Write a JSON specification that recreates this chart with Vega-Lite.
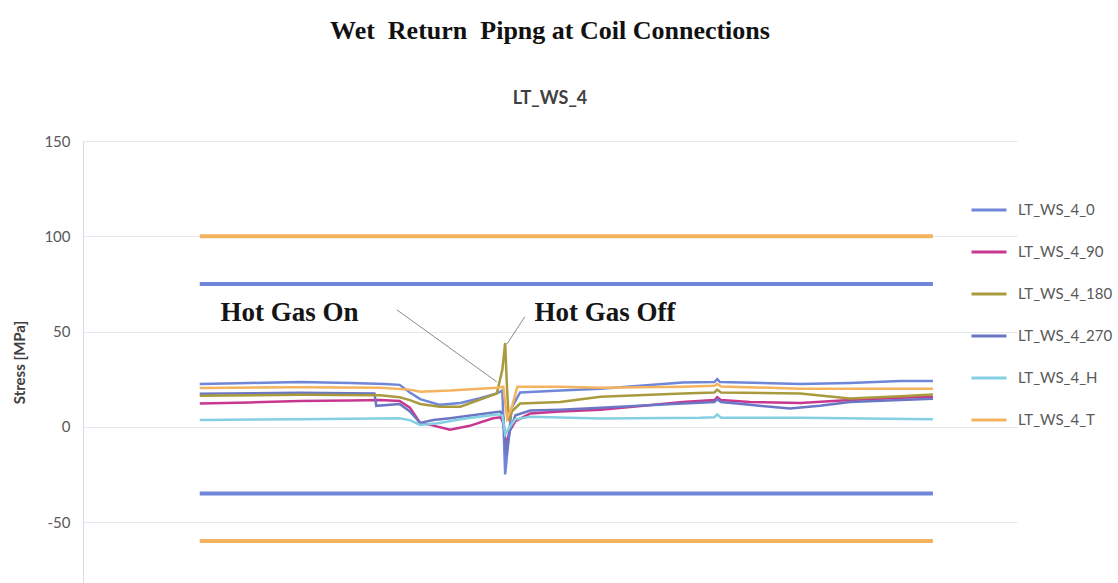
{
  "$schema": "https://vega.github.io/schema/vega-lite/v6.json",
  "width": 934,
  "height": 442,
  "autosize": {"type": "none"},
  "padding": {"left": 83, "top": 141, "right": 101, "bottom": 0},
  "background": "white",
  "title": {
    "text": "Wet\u00a0 Return\u00a0 Pipng at Coil Connections",
    "subtitle": "LT_WS_4",
    "font": "Liberation Serif",
    "fontSize": 26,
    "fontWeight": "bold",
    "color": "#111111",
    "subtitleFont": "Lato",
    "subtitleFontSize": 18,
    "subtitleFontWeight": "bold",
    "subtitleColor": "#404040",
    "anchor": "middle",
    "frame": "group",
    "offset": 26,
    "subtitlePadding": 46
  },
  "config": {"view": {"stroke": null}, "font": "Lato"},
  "datasets": {
    "series": [
      {"series": "LT_WS_4_0", "t": 12.5, "v": 22.5}, {"series": "LT_WS_4_0", "t": 17.9, "v": 23}, {"series": "LT_WS_4_0", "t": 23.2, "v": 23.5}, {"series": "LT_WS_4_0", "t": 28.6, "v": 23}, {"series": "LT_WS_4_0", "t": 32.3, "v": 22.5}, {"series": "LT_WS_4_0", "t": 33.9, "v": 22}, {"series": "LT_WS_4_0", "t": 35.0, "v": 18}, {"series": "LT_WS_4_0", "t": 36.1, "v": 14.5}, {"series": "LT_WS_4_0", "t": 38.2, "v": 11.5}, {"series": "LT_WS_4_0", "t": 40.4, "v": 12.5}, {"series": "LT_WS_4_0", "t": 42.5, "v": 15}, {"series": "LT_WS_4_0", "t": 44.3, "v": 17.5}, {"series": "LT_WS_4_0", "t": 44.9, "v": 19}, {"series": "LT_WS_4_0", "t": 45.2, "v": -25}, {"series": "LT_WS_4_0", "t": 45.5, "v": -10}, {"series": "LT_WS_4_0", "t": 45.9, "v": 10}, {"series": "LT_WS_4_0", "t": 46.8, "v": 18}, {"series": "LT_WS_4_0", "t": 51.1, "v": 19}, {"series": "LT_WS_4_0", "t": 55.4, "v": 20}, {"series": "LT_WS_4_0", "t": 64.2, "v": 23.2}, {"series": "LT_WS_4_0", "t": 67.6, "v": 23.5}, {"series": "LT_WS_4_0", "t": 67.9, "v": 25}, {"series": "LT_WS_4_0", "t": 68.2, "v": 23.5}, {"series": "LT_WS_4_0", "t": 76.8, "v": 22.5}, {"series": "LT_WS_4_0", "t": 82.1, "v": 23}, {"series": "LT_WS_4_0", "t": 87.5, "v": 24}, {"series": "LT_WS_4_0", "t": 91.0, "v": 24},

      {"series": "LT_WS_4_90", "t": 12.5, "v": 12.2}, {"series": "LT_WS_4_90", "t": 17.9, "v": 12.8}, {"series": "LT_WS_4_90", "t": 23.2, "v": 13.5}, {"series": "LT_WS_4_90", "t": 28.6, "v": 13.8}, {"series": "LT_WS_4_90", "t": 31.8, "v": 14}, {"series": "LT_WS_4_90", "t": 33.9, "v": 13.5}, {"series": "LT_WS_4_90", "t": 35.0, "v": 10}, {"series": "LT_WS_4_90", "t": 36.1, "v": 2}, {"series": "LT_WS_4_90", "t": 37.2, "v": 1}, {"series": "LT_WS_4_90", "t": 39.3, "v": -1.5}, {"series": "LT_WS_4_90", "t": 41.4, "v": 0.5}, {"series": "LT_WS_4_90", "t": 43.9, "v": 4.5}, {"series": "LT_WS_4_90", "t": 44.7, "v": 5}, {"series": "LT_WS_4_90", "t": 45.0, "v": 2}, {"series": "LT_WS_4_90", "t": 45.3, "v": -10}, {"series": "LT_WS_4_90", "t": 45.7, "v": -2}, {"series": "LT_WS_4_90", "t": 46.3, "v": 3}, {"series": "LT_WS_4_90", "t": 47.9, "v": 7}, {"series": "LT_WS_4_90", "t": 51.1, "v": 8}, {"series": "LT_WS_4_90", "t": 55.4, "v": 9}, {"series": "LT_WS_4_90", "t": 60.0, "v": 11}, {"series": "LT_WS_4_90", "t": 64.2, "v": 13}, {"series": "LT_WS_4_90", "t": 67.6, "v": 14}, {"series": "LT_WS_4_90", "t": 67.9, "v": 15.5}, {"series": "LT_WS_4_90", "t": 68.3, "v": 14}, {"series": "LT_WS_4_90", "t": 71.4, "v": 13}, {"series": "LT_WS_4_90", "t": 76.8, "v": 12.5}, {"series": "LT_WS_4_90", "t": 82.1, "v": 14}, {"series": "LT_WS_4_90", "t": 87.5, "v": 15.3}, {"series": "LT_WS_4_90", "t": 91.0, "v": 15.7},

      {"series": "LT_WS_4_270", "t": 12.5, "v": 17.3}, {"series": "LT_WS_4_270", "t": 23.2, "v": 17.8}, {"series": "LT_WS_4_270", "t": 31.2, "v": 17.5}, {"series": "LT_WS_4_270", "t": 31.4, "v": 11}, {"series": "LT_WS_4_270", "t": 33.9, "v": 12}, {"series": "LT_WS_4_270", "t": 35.0, "v": 8}, {"series": "LT_WS_4_270", "t": 36.1, "v": 2}, {"series": "LT_WS_4_270", "t": 37.5, "v": 3.5}, {"series": "LT_WS_4_270", "t": 39.3, "v": 4.5}, {"series": "LT_WS_4_270", "t": 43.9, "v": 7.5}, {"series": "LT_WS_4_270", "t": 44.7, "v": 8}, {"series": "LT_WS_4_270", "t": 45.0, "v": 5}, {"series": "LT_WS_4_270", "t": 45.3, "v": -15}, {"series": "LT_WS_4_270", "t": 45.7, "v": -2}, {"series": "LT_WS_4_270", "t": 46.3, "v": 6}, {"series": "LT_WS_4_270", "t": 47.9, "v": 8.5}, {"series": "LT_WS_4_270", "t": 51.1, "v": 9}, {"series": "LT_WS_4_270", "t": 55.4, "v": 10}, {"series": "LT_WS_4_270", "t": 64.2, "v": 12.2}, {"series": "LT_WS_4_270", "t": 67.6, "v": 13}, {"series": "LT_WS_4_270", "t": 67.9, "v": 14.5}, {"series": "LT_WS_4_270", "t": 68.3, "v": 13}, {"series": "LT_WS_4_270", "t": 71.4, "v": 11.5}, {"series": "LT_WS_4_270", "t": 75.7, "v": 9.6}, {"series": "LT_WS_4_270", "t": 78.9, "v": 11}, {"series": "LT_WS_4_270", "t": 82.1, "v": 13}, {"series": "LT_WS_4_270", "t": 91.0, "v": 14.7},

      {"series": "LT_WS_4_180", "t": 12.5, "v": 16.3}, {"series": "LT_WS_4_180", "t": 23.2, "v": 16.8}, {"series": "LT_WS_4_180", "t": 31.8, "v": 16.5}, {"series": "LT_WS_4_180", "t": 33.9, "v": 15.5}, {"series": "LT_WS_4_180", "t": 35.0, "v": 14}, {"series": "LT_WS_4_180", "t": 36.1, "v": 12}, {"series": "LT_WS_4_180", "t": 38.2, "v": 10.5}, {"series": "LT_WS_4_180", "t": 40.4, "v": 10.5}, {"series": "LT_WS_4_180", "t": 44.3, "v": 17.5}, {"series": "LT_WS_4_180", "t": 44.9, "v": 30}, {"series": "LT_WS_4_180", "t": 45.2, "v": 44}, {"series": "LT_WS_4_180", "t": 45.4, "v": 20}, {"series": "LT_WS_4_180", "t": 45.6, "v": 3}, {"series": "LT_WS_4_180", "t": 45.9, "v": 8}, {"series": "LT_WS_4_180", "t": 46.8, "v": 12.2}, {"series": "LT_WS_4_180", "t": 51.1, "v": 13}, {"series": "LT_WS_4_180", "t": 55.4, "v": 15.7}, {"series": "LT_WS_4_180", "t": 64.2, "v": 17.5}, {"series": "LT_WS_4_180", "t": 67.6, "v": 18}, {"series": "LT_WS_4_180", "t": 67.9, "v": 19.5}, {"series": "LT_WS_4_180", "t": 68.3, "v": 18}, {"series": "LT_WS_4_180", "t": 76.8, "v": 17.5}, {"series": "LT_WS_4_180", "t": 82.1, "v": 14.8}, {"series": "LT_WS_4_180", "t": 87.5, "v": 16}, {"series": "LT_WS_4_180", "t": 91.0, "v": 17},

      {"series": "LT_WS_4_H", "t": 12.5, "v": 3.5}, {"series": "LT_WS_4_H", "t": 23.2, "v": 4}, {"series": "LT_WS_4_H", "t": 33.9, "v": 4.5}, {"series": "LT_WS_4_H", "t": 35.0, "v": 3.5}, {"series": "LT_WS_4_H", "t": 36.1, "v": 1}, {"series": "LT_WS_4_H", "t": 38.2, "v": 2}, {"series": "LT_WS_4_H", "t": 40.4, "v": 4}, {"series": "LT_WS_4_H", "t": 44.3, "v": 6.5}, {"series": "LT_WS_4_H", "t": 44.9, "v": 6}, {"series": "LT_WS_4_H", "t": 45.2, "v": -4}, {"series": "LT_WS_4_H", "t": 45.7, "v": 0}, {"series": "LT_WS_4_H", "t": 46.3, "v": 4}, {"series": "LT_WS_4_H", "t": 47.9, "v": 5.2}, {"series": "LT_WS_4_H", "t": 55.4, "v": 4.4}, {"series": "LT_WS_4_H", "t": 66.1, "v": 4.7}, {"series": "LT_WS_4_H", "t": 67.6, "v": 5}, {"series": "LT_WS_4_H", "t": 67.9, "v": 6.5}, {"series": "LT_WS_4_H", "t": 68.3, "v": 4.8}, {"series": "LT_WS_4_H", "t": 76.8, "v": 4.7}, {"series": "LT_WS_4_H", "t": 91.0, "v": 4},

      {"series": "LT_WS_4_T", "t": 12.5, "v": 20.4}, {"series": "LT_WS_4_T", "t": 23.2, "v": 20.8}, {"series": "LT_WS_4_T", "t": 31.8, "v": 20.5}, {"series": "LT_WS_4_T", "t": 35.0, "v": 19.5}, {"series": "LT_WS_4_T", "t": 36.1, "v": 18.4}, {"series": "LT_WS_4_T", "t": 39.3, "v": 19}, {"series": "LT_WS_4_T", "t": 44.3, "v": 20.5}, {"series": "LT_WS_4_T", "t": 45.0, "v": 21}, {"series": "LT_WS_4_T", "t": 45.4, "v": 4.4}, {"series": "LT_WS_4_T", "t": 45.9, "v": 10}, {"series": "LT_WS_4_T", "t": 46.5, "v": 21}, {"series": "LT_WS_4_T", "t": 51.1, "v": 21}, {"series": "LT_WS_4_T", "t": 55.4, "v": 20.5}, {"series": "LT_WS_4_T", "t": 64.2, "v": 21}, {"series": "LT_WS_4_T", "t": 67.6, "v": 21.5}, {"series": "LT_WS_4_T", "t": 67.9, "v": 22.5}, {"series": "LT_WS_4_T", "t": 68.3, "v": 21.2}, {"series": "LT_WS_4_T", "t": 76.8, "v": 20}, {"series": "LT_WS_4_T", "t": 82.1, "v": 20}, {"series": "LT_WS_4_T", "t": 91.0, "v": 20}
    ],
    "limits": [
      {"series": "LT_WS_4_T", "stress": 100, "start": 12.5, "end": 91.0},
      {"series": "LT_WS_4_0", "stress": 75, "start": 12.5, "end": 91.0},
      {"series": "LT_WS_4_0", "stress": -35, "start": 12.5, "end": 91.0},
      {"series": "LT_WS_4_T", "stress": -60, "start": 12.5, "end": 91.0}
    ],
    "leaders": [
      {"event": "Hot Gas On", "t": 33.6, "v": 61.4, "t2": 44.3, "v2": 23.6},
      {"event": "Hot Gas Off", "t": 47.3, "v": 57.7, "t2": 45.4, "v2": 43.5}
    ],
    "labels": [
      {"event": "Hot Gas On", "t": 22.1, "v": 55.6},
      {"event": "Hot Gas Off", "t": 55.9, "v": 55.6}
    ]
  },
  "layer": [
    {
      "data": {"name": "limits"},
      "mark": {"type": "rule", "strokeWidth": 4},
      "encoding": {
        "x": {"field": "start", "type": "quantitative", "scale": {"domain": [0, 100], "nice": false, "zero": false}, "axis": null},
        "x2": {"field": "end"},
        "y": {"field": "stress", "type": "quantitative", "scale": {"domain": [-82, 150], "nice": false, "zero": false},
          "axis": {"values": [-50, 0, 50, 100, 150], "labelExpr": "toString(datum.value)", "title": "Stress [MPa]", "titleFont": "Lato", "titleFontSize": 15, "titleFontWeight": "bold", "titleColor": "#404040", "titlePadding": 16,
            "labelFont": "Lato", "labelFontSize": 15, "labelColor": "#595959", "labelPadding": 13, "ticks": false, "tickSize": 0,
            "domainColor": "#d8dae6", "grid": true, "gridColor": "#e8e9f0"}},
        "color": {"field": "series", "type": "nominal",
          "scale": {"domain": ["LT_WS_4_0", "LT_WS_4_90", "LT_WS_4_180", "LT_WS_4_270", "LT_WS_4_H", "LT_WS_4_T"],
            "range": ["#6f86d9", "#c8378f", "#a99b3d", "#6b76c4", "#84d0e2", "#f4b35e"]},
          "legend": {"orient": "none", "legendX": 887, "legendY": 50, "title": null, "symbolType": "stroke", "symbolSize": 1225, "symbolStrokeWidth": 3,
            "labelFont": "Lato", "labelFontSize": 15, "labelColor": "#595959", "labelOffset": 10, "rowPadding": 15, "padding": 0}}
      }
    },
    {
      "data": {"name": "series"},
      "mark": {"type": "line", "strokeWidth": 2.5},
      "encoding": {
        "x": {"field": "t", "type": "quantitative"},
        "y": {"field": "v", "type": "quantitative"},
        "color": {"field": "series", "type": "nominal"}
      }
    },
    {
      "data": {"name": "leaders"},
      "mark": {"type": "rule", "strokeWidth": 1, "color": "#8a8a8a"},
      "encoding": {
        "x": {"field": "t", "type": "quantitative"},
        "y": {"field": "v", "type": "quantitative"},
        "x2": {"field": "t2"},
        "y2": {"field": "v2"}
      }
    },
    {
      "data": {"name": "labels"},
      "mark": {"type": "text", "font": "Liberation Serif", "fontSize": 27, "fontWeight": "bold", "color": "#151515", "align": "center", "baseline": "alphabetic"},
      "encoding": {
        "x": {"field": "t", "type": "quantitative"},
        "y": {"field": "v", "type": "quantitative"},
        "text": {"field": "event"}
      }
    }
  ]
}
